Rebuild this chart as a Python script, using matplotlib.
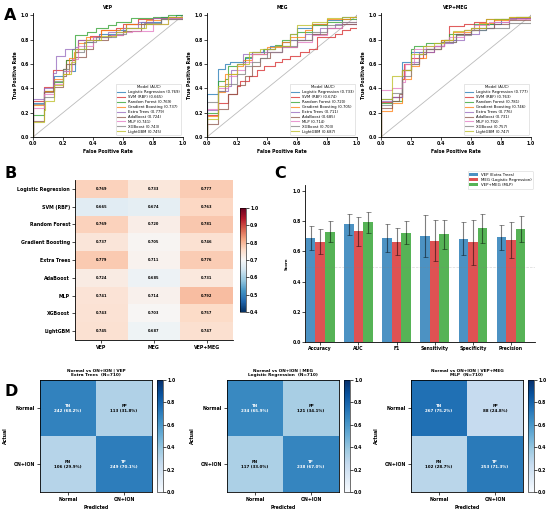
import numpy as np
import matplotlib
matplotlib.use("Agg")
import matplotlib.pyplot as plt
from matplotlib.colors import Normalize

# ---------------- DATA ----------------
models = ["Logistic Regression", "SVM (RBF)", "Random Forest", "Gradient Boosting",
          "Extra Trees", "AdaBoost", "MLP", "XGBoost", "LightGBM"]
modalities = ["VEP", "MEG", "VEP+MEG"]

auc_vep = [0.769, 0.665, 0.769, 0.737, 0.779, 0.724, 0.741, 0.743, 0.745]
auc_meg = [0.733, 0.674, 0.720, 0.705, 0.711, 0.685, 0.714, 0.703, 0.687]
auc_both = [0.777, 0.763, 0.781, 0.746, 0.776, 0.731, 0.792, 0.757, 0.747]

# ROC step points (fpr, tpr)
roc_vep = [
    [(0,0.28),(0.07,0.38),(0.14,0.5),(0.2,0.54),(0.28,0.72),(0.35,0.78),(0.4,0.8),(0.44,0.85),(0.55,0.88),(0.62,0.93),(0.72,0.95),(0.85,0.99),(0.95,1.0),(1,1)],
    [(0,0.3),(0.07,0.41),(0.13,0.55),(0.2,0.56),(0.22,0.63),(0.28,0.7),(0.3,0.8),(0.38,0.83),(0.45,0.88),(0.55,0.9),(0.6,0.93),(0.7,0.97),(0.8,0.98),(0.9,0.99),(1,1)],
    [(0,0.18),(0.07,0.38),(0.14,0.45),(0.2,0.56),(0.22,0.63),(0.26,0.72),(0.28,0.84),(0.36,0.86),(0.42,0.9),(0.5,0.92),(0.55,0.95),(0.65,0.98),(0.8,0.99),(0.9,1.0),(1,1)],
    [(0,0.26),(0.07,0.38),(0.14,0.48),(0.2,0.52),(0.24,0.65),(0.27,0.7),(0.3,0.77),(0.35,0.82),(0.45,0.88),(0.58,0.9),(0.62,0.93),(0.75,0.96),(0.85,0.98),(1,1)],
    [(0,0.31),(0.07,0.4),(0.13,0.53),(0.15,0.67),(0.21,0.72),(0.28,0.74),(0.3,0.8),(0.4,0.82),(0.5,0.86),(0.6,0.9),(0.7,0.95),(0.8,0.98),(1,1)],
    [(0,0.13),(0.07,0.37),(0.13,0.41),(0.2,0.5),(0.22,0.6),(0.28,0.66),(0.35,0.72),(0.4,0.8),(0.5,0.84),(0.6,0.87),(0.72,0.93),(0.85,0.97),(1,1)],
    [(0,0.24),(0.07,0.35),(0.14,0.44),(0.2,0.54),(0.26,0.64),(0.3,0.75),(0.4,0.82),(0.52,0.84),(0.6,0.86),(0.66,0.87),(0.8,0.93),(0.9,0.98),(1,1)],
    [(0,0.27),(0.07,0.33),(0.14,0.46),(0.2,0.56),(0.24,0.6),(0.28,0.7),(0.34,0.78),(0.42,0.82),(0.55,0.85),(0.62,0.9),(0.74,0.94),(0.85,0.97),(1,1)],
    [(0,0.12),(0.07,0.22),(0.08,0.3),(0.14,0.43),(0.2,0.52),(0.25,0.62),(0.28,0.72),(0.35,0.8),(0.45,0.83),(0.55,0.86),(0.62,0.9),(0.75,0.93),(0.9,0.99),(1,1)],
]
roc_meg = [
    [(0,0.35),(0.07,0.56),(0.12,0.6),(0.15,0.62),(0.25,0.65),(0.3,0.7),(0.37,0.72),(0.42,0.75),(0.5,0.78),(0.55,0.85),(0.6,0.9),(0.7,0.93),(0.8,0.96),(0.9,0.99),(1,1)],
    [(0,0.18),(0.07,0.28),(0.14,0.35),(0.2,0.42),(0.22,0.46),(0.28,0.5),(0.33,0.55),(0.38,0.58),(0.45,0.62),(0.5,0.64),(0.55,0.67),(0.62,0.7),(0.68,0.72),(0.73,0.82),(0.85,0.85),(0.9,0.88),(0.95,0.9),(1,1)],
    [(0,0.2),(0.07,0.46),(0.12,0.48),(0.14,0.58),(0.2,0.6),(0.25,0.66),(0.3,0.68),(0.38,0.72),(0.45,0.76),(0.5,0.8),(0.6,0.86),(0.7,0.92),(0.8,0.95),(0.9,0.97),(1,1)],
    [(0,0.17),(0.07,0.37),(0.12,0.52),(0.2,0.58),(0.24,0.63),(0.3,0.68),(0.4,0.74),(0.5,0.78),(0.55,0.82),(0.65,0.88),(0.7,0.93),(0.8,0.97),(0.95,0.99),(1,1)],
    [(0,0.22),(0.07,0.38),(0.14,0.42),(0.16,0.55),(0.2,0.6),(0.24,0.68),(0.3,0.7),(0.4,0.72),(0.45,0.75),(0.55,0.8),(0.65,0.85),(0.75,0.9),(0.85,0.93),(1,1)],
    [(0,0.11),(0.07,0.23),(0.14,0.35),(0.2,0.43),(0.25,0.5),(0.3,0.58),(0.35,0.65),(0.42,0.7),(0.5,0.74),(0.6,0.8),(0.7,0.85),(0.8,0.9),(0.9,0.93),(1,1)],
    [(0,0.23),(0.07,0.4),(0.14,0.5),(0.2,0.55),(0.25,0.62),(0.3,0.68),(0.4,0.7),(0.5,0.74),(0.6,0.78),(0.7,0.84),(0.8,0.9),(0.9,0.95),(1,1)],
    [(0,0.29),(0.07,0.38),(0.12,0.44),(0.2,0.52),(0.25,0.58),(0.3,0.62),(0.35,0.65),(0.4,0.7),(0.5,0.75),(0.6,0.8),(0.7,0.86),(0.8,0.92),(0.9,0.95),(1,1)],
    [(0,0.15),(0.07,0.42),(0.14,0.52),(0.2,0.6),(0.28,0.7),(0.35,0.72),(0.45,0.75),(0.55,0.85),(0.6,0.92),(0.7,0.95),(0.8,0.98),(0.9,0.99),(1,1)],
]
roc_both = [
    [(0,0.31),(0.07,0.33),(0.14,0.62),(0.2,0.7),(0.28,0.72),(0.35,0.75),(0.42,0.8),(0.5,0.85),(0.6,0.88),(0.7,0.93),(0.8,0.97),(0.9,0.99),(1,1)],
    [(0,0.29),(0.07,0.33),(0.14,0.48),(0.15,0.6),(0.2,0.65),(0.28,0.7),(0.35,0.75),(0.42,0.8),(0.45,0.91),(0.55,0.93),(0.62,0.95),(0.7,0.97),(0.85,0.98),(1,1)],
    [(0,0.28),(0.07,0.3),(0.14,0.55),(0.2,0.72),(0.22,0.75),(0.3,0.77),(0.4,0.8),(0.45,0.85),(0.55,0.88),(0.62,0.93),(0.75,0.97),(0.9,0.99),(1,1)],
    [(0,0.21),(0.07,0.28),(0.14,0.48),(0.2,0.58),(0.25,0.65),(0.3,0.72),(0.4,0.8),(0.48,0.86),(0.6,0.88),(0.65,0.94),(0.75,0.96),(0.85,0.99),(1,1)],
    [(0,0.3),(0.07,0.33),(0.14,0.55),(0.2,0.62),(0.25,0.7),(0.35,0.75),(0.42,0.77),(0.48,0.8),(0.55,0.85),(0.65,0.9),(0.75,0.95),(0.85,0.98),(1,1)],
    [(0,0.24),(0.07,0.3),(0.12,0.35),(0.14,0.55),(0.2,0.6),(0.25,0.68),(0.3,0.72),(0.4,0.78),(0.5,0.85),(0.6,0.9),(0.75,0.93),(0.85,0.96),(1,1)],
    [(0,0.39),(0.07,0.4),(0.14,0.45),(0.16,0.6),(0.22,0.72),(0.3,0.75),(0.42,0.78),(0.45,0.82),(0.55,0.88),(0.62,0.92),(0.72,0.95),(0.85,0.97),(1,1)],
    [(0,0.26),(0.07,0.36),(0.14,0.5),(0.2,0.6),(0.25,0.68),(0.3,0.72),(0.4,0.78),(0.5,0.84),(0.6,0.88),(0.7,0.9),(0.85,0.94),(1,1)],
    [(0,0.31),(0.07,0.5),(0.14,0.55),(0.2,0.68),(0.28,0.75),(0.35,0.77),(0.42,0.8),(0.48,0.87),(0.55,0.88),(0.6,0.9),(0.7,0.97),(0.85,0.99),(1,1)],
]

metrics = ["Accuracy", "AUC", "F1", "Sensitivity", "Specificity", "Precision"]
bar_labels = ["VEP (Extra Trees)", "MEG (Logistic Regression)", "VEP+MEG (MLP)"]
vep_mean = [0.690, 0.780, 0.688, 0.700, 0.685, 0.693]
vep_std = [0.080, 0.070, 0.095, 0.140, 0.112, 0.083]
meg_mean = [0.665, 0.733, 0.665, 0.672, 0.660, 0.677]
meg_std = [0.085, 0.095, 0.090, 0.135, 0.148, 0.120]
both_mean = [0.731, 0.792, 0.725, 0.713, 0.752, 0.748]
both_std = [0.068, 0.070, 0.075, 0.098, 0.097, 0.085]

cm_classes = ["Normal", "ON+ION"]
cm_titles = ["Normal vs ON+ION | VEP\nExtra Trees  (N=710)",
             "Normal vs ON+ION | MEG\nLogistic Regression  (N=710)",
             "Normal vs ON+ION | VEP+MEG\nMLP  (N=710)"]
cm_vep = [[242, 113], [106, 249]]
cm_meg = [[234, 121], [117, 238]]
cm_both = [[267, 88], [102, 253]]

# ---------------- STYLE ----------------
roc_colors = ["#1f77b4", "#d62728", "#2ca02c", "#ff7f0e", "#9467bd",
              "#8c564b", "#e377c2", "#7f7f7f", "#bcbd22"]
bar_colors = ["#1f77b4", "#d62728", "#2ca02c"]

W, H = 550, 512
fig = plt.figure(figsize=(W / 100, H / 100), dpi=100)


def px(l, t, r, b):
    return [l / W, 1 - b / H, (r - l) / W, (b - t) / H]


def letter(x, y, s):
    fig.text(x / W, 1 - y / H, s, fontsize=11.5, fontweight="bold", va="center", ha="left")


TICK = 3.3
LAB = 3.3
CAT = 3.4

# ---------------- PANEL A ----------------
roc_sets = [roc_vep, roc_meg, roc_both]
auc_sets = [auc_vep, auc_meg, auc_both]
lefts = [33, 207, 381]
for k in range(3):
    ax = fig.add_axes(px(lefts[k], 13, lefts[k] + 150, 137))
    ax.plot([0, 1], [0, 1], color="#bbbbbb", lw=0.6)
    for i, m in enumerate(models):
        pts = roc_sets[k][i]
        xs = [0] + [p[0] for p in pts]
        ys = [0] + [p[1] for p in pts]
        ax.plot(xs, ys, drawstyle="steps-post", color=roc_colors[i], lw=0.8, alpha=0.75,
                label=f"{m} ({auc_sets[k][i]:.3f})")
    ax.set_xlim(0, 1)
    ax.set_ylim(0, 1.02)
    ax.set_xticks([0, 0.2, 0.4, 0.6, 0.8, 1.0])
    ax.set_yticks([0, 0.2, 0.4, 0.6, 0.8, 1.0])
    ax.tick_params(labelsize=TICK, length=2, width=0.5, pad=1)
    for lab in ax.get_xticklabels() + ax.get_yticklabels():
        lab.set_fontweight("bold")
    ax.set_xlabel("False Positive Rate", fontsize=LAB, fontweight="bold", labelpad=2)
    ax.set_ylabel("True Positive Rate", fontsize=LAB, fontweight="bold", labelpad=2)
    ax.set_title(modalities[k], fontsize=LAB, fontweight="bold", pad=3)
    for s in ["top", "right"]:
        ax.spines[s].set_visible(False)
    for s in ["left", "bottom"]:
        ax.spines[s].set_linewidth(0.6)
    leg = ax.legend(loc="lower right", fontsize=2.7, title="Model (AUC)", title_fontsize=2.7,
                    frameon=True, handlelength=2.0, borderpad=0.4, labelspacing=0.25,
                    framealpha=0.9)
    leg.get_frame().set_linewidth(0.4)
letter(4, 15, "A")

# ---------------- PANEL B ----------------
axb = fig.add_axes(px(75, 180, 233, 340))
mat = np.array([auc_vep, auc_meg, auc_both]).T
norm = Normalize(vmin=0.4, vmax=1.0)
im = axb.imshow(mat, cmap="RdBu_r", norm=norm, aspect="auto")
for i in range(mat.shape[0]):
    for j in range(mat.shape[1]):
        axb.text(j, i, f"{mat[i, j]:.3f}", ha="center", va="center", fontsize=2.6,
                 fontweight="bold", color="black")
axb.set_xticks(range(3))
axb.set_xticklabels(modalities, fontsize=CAT, fontweight="bold")
axb.set_yticks(range(len(models)))
axb.set_yticklabels(models, fontsize=CAT, fontweight="bold")
axb.tick_params(length=2, width=0.5, pad=1.5)
for s in axb.spines.values():
    s.set_visible(False)
axb.spines["left"].set_visible(True)
axb.spines["bottom"].set_visible(True)
axb.spines["left"].set_linewidth(0.6)
axb.spines["bottom"].set_linewidth(0.6)
caxb = fig.add_axes(px(240, 208, 246, 312))
cb = fig.colorbar(im, cax=caxb)
cb.set_ticks([0.4, 0.5, 0.6, 0.7, 0.8, 0.9, 1.0])
cb.ax.tick_params(labelsize=TICK, length=2, width=0.5, pad=1)
for lab in cb.ax.get_yticklabels():
    lab.set_fontweight("bold")
cb.outline.set_linewidth(0.4)
letter(4, 174, "B")

# ---------------- PANEL C ----------------
axc = fig.add_axes(px(305, 185, 535, 342))
x = np.arange(len(metrics))
wdt = 0.25
means = [vep_mean, meg_mean, both_mean]
stds = [vep_std, meg_std, both_std]
for k in range(3):
    axc.bar(x + (k - 1) * wdt, means[k], wdt, yerr=stds[k], color=bar_colors[k], alpha=0.8,
            label=bar_labels[k], capsize=1.8,
            error_kw=dict(ecolor="black", elinewidth=0.8, capthick=0.6, alpha=0.5))
axc.axhline(0.5, color="gray", ls="--", lw=0.5, alpha=0.3)
axc.set_xlim(-0.4, 5.63)
axc.set_ylim(0, 1.04)
axc.set_xticks(x)
axc.set_xticklabels(metrics, fontsize=CAT, fontweight="bold")
axc.set_yticks([0, 0.2, 0.4, 0.6, 0.8, 1.0])
axc.tick_params(labelsize=TICK, length=2, width=0.5, pad=1)
for lab in axc.get_yticklabels():
    lab.set_fontweight("bold")
axc.set_ylabel("Score", fontsize=2.9, fontweight="bold", labelpad=3)
for s in ["top", "right"]:
    axc.spines[s].set_visible(False)
for s in ["left", "bottom"]:
    axc.spines[s].set_linewidth(0.6)
legc = axc.legend(loc="upper right", bbox_to_anchor=(1.0, 1.1), fontsize=2.8, frameon=True,
                  handlelength=2.2, borderpad=0.4, labelspacing=0.3)
legc.get_frame().set_linewidth(0.4)
letter(274, 174, "C")

# ---------------- PANEL D ----------------
cms = [cm_vep, cm_meg, cm_both]
cm_l = [40, 227, 411]
names = [["TN", "FP"], ["FN", "TP"]]
for k in range(3):
    ax = fig.add_axes(px(cm_l[k], 380, cm_l[k] + 112, 492))
    cm = np.array(cms[k], dtype=float)
    frac = cm / cm.sum(axis=1, keepdims=True)
    imd = ax.imshow(frac, cmap="Blues", vmin=0, vmax=1, aspect="auto")
    for i in range(2):
        for j in range(2):
            col = "white" if frac[i, j] > 0.5 else "black"
            ax.text(j, i, f"{names[i][j]}\n{int(cm[i, j])} ({frac[i, j] * 100:.1f}%)",
                    ha="center", va="center", fontsize=2.9, fontweight="bold", color=col,
                    linespacing=1.3)
    ax.set_xticks([0, 1])
    ax.set_yticks([0, 1])
    ax.set_xticklabels(cm_classes, fontsize=CAT, fontweight="bold")
    ax.set_yticklabels(cm_classes, fontsize=CAT, fontweight="bold")
    ax.tick_params(length=2, width=0.5, pad=1.5)
    ax.set_xlabel("Predicted", fontsize=LAB, fontweight="bold", labelpad=2)
    ax.set_ylabel("Actual", fontsize=LAB, fontweight="bold", labelpad=4)
    ax.set_title(cm_titles[k], fontsize=3.1, fontweight="bold", pad=3, linespacing=1.2)
    for s in ax.spines.values():
        s.set_linewidth(0.6)
    cax = fig.add_axes(px(cm_l[k] + 117, 380, cm_l[k] + 123, 492))
    cbd = fig.colorbar(imd, cax=cax)
    cbd.set_ticks([0, 0.2, 0.4, 0.6, 0.8, 1.0])
    cbd.ax.tick_params(labelsize=TICK, length=2, width=0.5, pad=1)
    for lab in cbd.ax.get_yticklabels():
        lab.set_fontweight("bold")
    cbd.outline.set_linewidth(0.4)
letter(4, 392, "D")

fig.savefig("out.png", dpi=100, facecolor="white")
